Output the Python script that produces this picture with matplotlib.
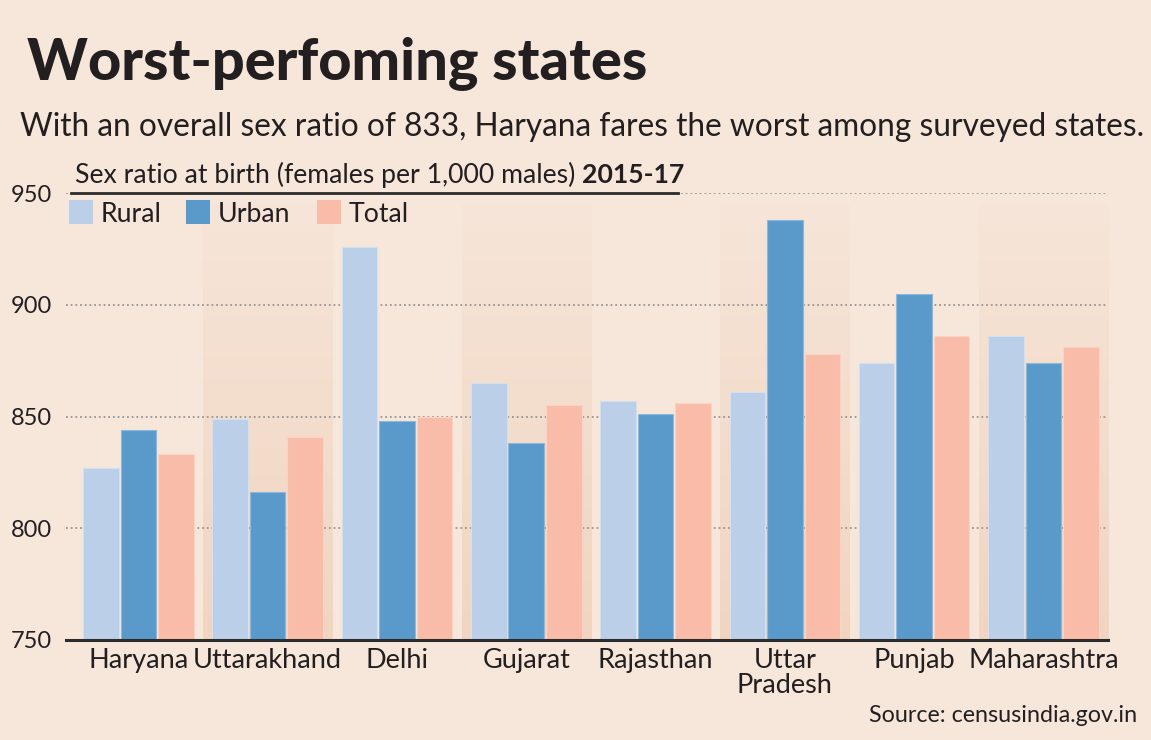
import matplotlib
matplotlib.use("Agg")
import matplotlib.pyplot as plt
import matplotlib.font_manager as fm
from matplotlib.patches import Rectangle
from matplotlib.lines import Line2D
import numpy as np

# data
states = ["Haryana", "Uttarakhand", "Delhi", "Gujarat", "Rajasthan",
          "Uttar\nPradesh", "Punjab", "Maharashtra"]
series = ["Rural", "Urban", "Total"]
rural = [827, 849, 926, 865, 857, 861, 874, 886]
urban = [844, 816, 848, 838, 851, 938, 905, 874]
total = [833, 841, 850, 855, 856, 878, 886, 881]
yticks = [750, 800, 850, 900, 950]

colors = ["#BBCFE8", "#5A9ACB", "#F9BCA8"]
edges = ["#D3E0F0", "#8DB8DC", "#FBD3C4"]
bg = "#F7E7DB"
ink = "#231F20"

names = {f.name for f in fm.fontManager.ttflist}
body = "Lato" if "Lato" in names else "DejaVu Sans"
head = body

W, H = 1151, 740
fig = plt.figure(figsize=(W / 100, H / 100), dpi=100)
fig.patch.set_facecolor(bg)
renderer = fig.canvas.get_renderer()


def fit(t, target_px):
    # scale the font so the text spans the width seen in the reference
    w = t.get_window_extent(renderer).width
    t.set_fontsize(t.get_fontsize() * target_px / w)
    return t


ax = fig.add_axes([66 / W, 1 - 640 / H, (1108 - 66) / W, (640 - 193) / H])
ax.set_facecolor("none")
ax.set_xlim(-0.56, 7.5)
ax.set_ylim(750, 950)
for s in ax.spines.values():
    s.set_visible(False)

# alternating shaded bands with a soft vertical gradient
grad = np.linspace(0, 1, 100).reshape(-1, 1)
top_c = np.array([0xF6, 0xE5, 0xD8]) / 255
bot_c = np.array([0xF1, 0xD5, 0xC1]) / 255
img = (top_c + (bot_c - top_c) * grad[..., None]).reshape(100, 1, 3)
for i in range(1, len(states), 2):
    ax.imshow(img, extent=[i - 0.5, i + 0.5, 750, 945], aspect="auto",
              origin="upper", zorder=0, interpolation="bilinear")

# gridlines
for v in yticks[1:]:
    ax.axhline(v, color="#9A9594", lw=1.3, ls=(0, (1, 1.6)), zorder=1)

x = np.arange(len(states))
w = 0.275
off = 0.29
for k, vals in enumerate([rural, urban, total]):
    ax.bar(x + (k - 1) * off, np.array(vals) - 750, bottom=750, width=w,
           color=colors[k], edgecolor=edges[k], linewidth=0.8, zorder=3)

ax.axhline(750, color="#2B2B2B", lw=2.2, zorder=5, clip_on=False)

ax.set_yticks(yticks)
ax.set_yticklabels([str(v) for v in yticks])
ax.tick_params(axis="y", length=0, pad=10, labelsize=17, labelcolor=ink)
for t in ax.get_yticklabels():
    t.set_fontfamily(body)

ax.set_xticks(x)
ax.set_xticklabels(states, linespacing=1.0)
ax.tick_params(axis="x", length=0, pad=6, labelsize=19.5, labelcolor=ink)
for t in ax.get_xticklabels():
    t.set_fontfamily(body)

# titles
fit(fig.text(27 / W, 1 - 80 / H, "Worst-perfoming states", fontsize=42,
             fontweight="black", family=head, color=ink, va="baseline"), 621)
fit(fig.text(20 / W, 1 - 136 / H,
             "With an overall sex ratio of 833, Haryana fares the worst among surveyed states.",
             fontsize=22, family=body, color=ink, va="baseline"), 1120)

t1 = fig.text(75 / W, 1 - 183 / H, "Sex ratio at birth (females per 1,000 males) ",
              fontsize=19, family=body, color=ink, va="baseline")
t2 = fig.text(0, 1 - 183 / H, "2015-17", fontsize=19, family=body,
              fontweight="bold", color=ink, va="baseline")
w1 = t1.get_window_extent(renderer).width
w2 = t2.get_window_extent(renderer).width
scale = (686 - 75) / (w1 + w2)
t1.set_fontsize(19 * scale)
t2.set_fontsize(19 * scale)
t2.set_x((75 + t1.get_window_extent(renderer).width) / W)
fig.add_artist(Line2D([71 / W, 678 / W], [1 - 193 / H] * 2, color="#2B2B2B", lw=2))

# legend
lx = [69, 186, 317]
for k, name in enumerate(series):
    fig.add_artist(Rectangle((lx[k] / W, 1 - 224 / H), 24 / W, 24 / H,
                             transform=fig.transFigure, facecolor=colors[k],
                             edgecolor="none"))
    fig.text((lx[k] + 32) / W, 1 - 222 / H, name, fontsize=t1.get_fontsize(),
             family=body, color=ink, va="baseline")

fit(fig.text(1137 / W, 1 - 722 / H, "Source: censusindia.gov.in", fontsize=17,
             family=body, color=ink, ha="right", va="baseline"), 268)

fig.savefig("out.png", dpi=100, facecolor=bg)
